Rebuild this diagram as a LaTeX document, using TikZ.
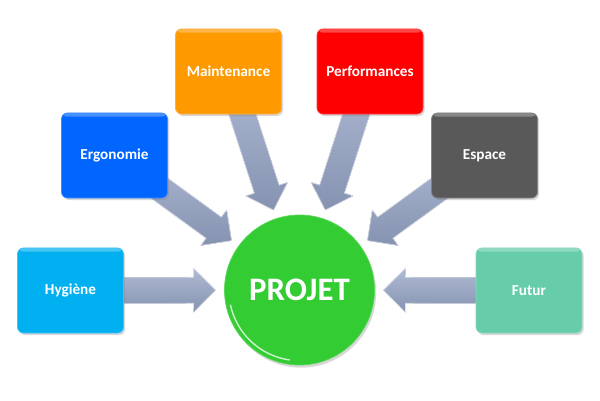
\documentclass[tikz,border=0pt]{standalone}
\usepackage{fontspec}
\setmainfont{Carlito}
\usetikzlibrary{calc,shadows,backgrounds}
\definecolor{cHyg}{HTML}{00B0F0}
\definecolor{cErg}{HTML}{0066FF}
\definecolor{cMai}{HTML}{FF9900}
\definecolor{cPer}{HTML}{FF0000}
\definecolor{cEsp}{HTML}{595959}
\definecolor{cFut}{HTML}{66CCAA}
\definecolor{cPro}{HTML}{33CC33}
\definecolor{arrLight}{HTML}{B0BBD4}
\definecolor{arrDark}{HTML}{8593B1}
\tikzset{
  box/.style={rectangle, rounded corners=1.8mm, minimum width=3.18cm, minimum height=2.55cm,
    text=white, font=\bfseries\fontsize{13}{15}\selectfont, fill=#1, draw=#1!75!white, line width=0.6pt,
    drop shadow={opacity=0.3, shadow xshift=0.5mm, shadow yshift=-0.6mm},
    path picture={\fill[white,opacity=0.28] ([yshift=-1.1mm]path picture bounding box.north west) rectangle (path picture bounding box.north east);}},
  hub/.style={circle, minimum size=4.5cm, fill=cPro, draw=cPro!80!white, line width=0.6pt,
    text=white, font=\bfseries\fontsize{28}{32}\selectfont,
    drop shadow={opacity=0.3, shadow xshift=0.5mm, shadow yshift=-0.8mm}},
  arrowbody/.style={top color=arrLight, bottom color=arrDark, draw=white!55!arrLight, line width=0.5pt}
}
\newcommand\blockarrow[2]{%
  \coordinate (t-#1) at ($(#2.center)!25.2mm!(#1.center)$);
  \coordinate (b-#1) at ($(t-#1)!6.6mm!(#1.center)$);
  \filldraw[arrowbody] ($(#1.center)!3.9mm!90:(t-#1)$) -- ($(b-#1)!3.9mm!90:(t-#1)$)
    -- ($(b-#1)!6.6mm!90:(t-#1)$) -- (t-#1) -- ($(b-#1)!6.6mm!-90:(t-#1)$)
    -- ($(b-#1)!3.9mm!-90:(t-#1)$) -- ($(#1.center)!3.9mm!-90:(t-#1)$) -- cycle;
}
\begin{document}
\begin{tikzpicture}[x=0.03cm, y=-0.03cm]
\useasboundingbox (0,0) rectangle (600,400);
\node[hub] (proj) at (299.5,290) {PROJET};
\node[box=cHyg] (hyg) at (70.5,290.5) {Hygiène};
\node[box=cErg] (erg) at (114.5,155.5) {Ergonomie};
\node[box=cMai] (mai) at (228.5,71.5) {Maintenance};
\node[box=cPer] (per) at (370,71.5) {Performances};
\node[box=cEsp] (esp) at (484.5,155.5) {Espace};
\node[box=cFut] (fut) at (529,290.5) {Futur};
\draw[white, opacity=0.75, line width=1.2pt] ([shift={(192:2.12cm)}]proj.center) arc[start angle=192, end angle=262, radius=2.12cm];
\begin{scope}[on background layer]
\fill[white] (0,0) rectangle (600,400);
\blockarrow{hyg}{proj}
\blockarrow{erg}{proj}
\blockarrow{mai}{proj}
\blockarrow{per}{proj}
\blockarrow{esp}{proj}
\blockarrow{fut}{proj}
\end{scope}
\end{tikzpicture}
\end{document}
